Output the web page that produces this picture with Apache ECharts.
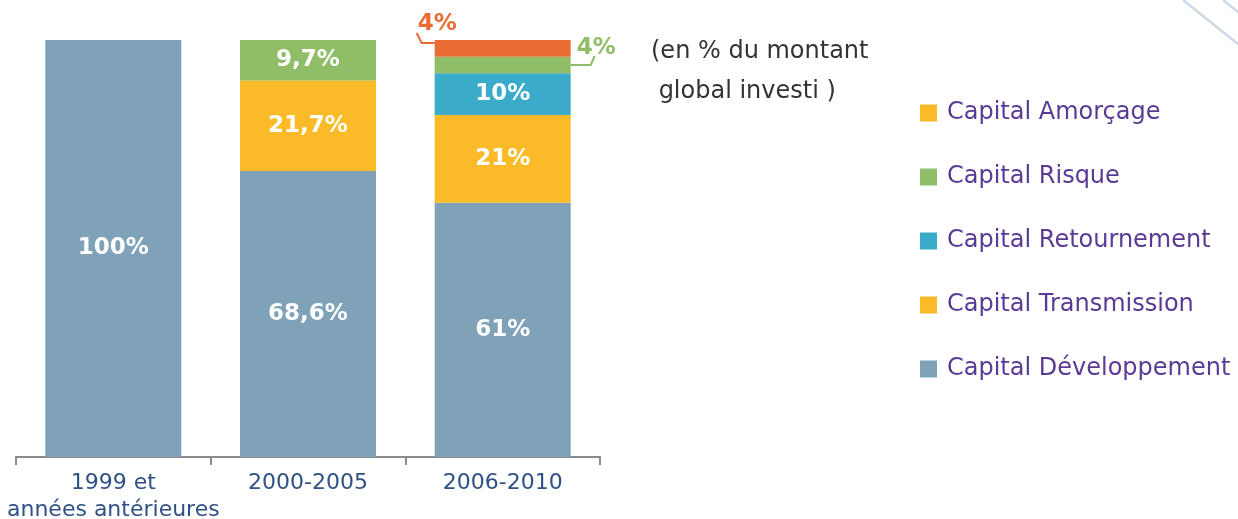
<!DOCTYPE html>
<html><head><meta charset="utf-8">
<script src="https://cdn.jsdelivr.net/npm/echarts@6/dist/echarts.min.js"></script>
<style>html,body{margin:0;padding:0;background:#fff}#c{width:1238px;height:519px}</style>
</head><body><div id="c"></div>
<script>
const categories = ['1999 et\nannées antérieures', '2000-2005', '2006-2010'];
const developpement = [100, 68.6, 61];
const transmission = [0, 21.7, 21];
const retournement = [0, 0, 10];
const risque = [0, 9.7, 4];
const amorcage = [0, 0, 4];
const note = '(en % du montant\n global investi )';

const FONT = '"DejaVu Sans", sans-serif';
const colors = {
  dev: '#7fa2b8', trans: '#fbbb28', ret: '#3aabc9', risk: '#8fbd68', amo: '#e86c33'
};
const fmt = v => String(v).replace('.', ',') + '%';
const inLabel = {show: true, position: 'inside', color: '#fff', fontWeight: 'bold', fontSize: 23, fontFamily: FONT,
  formatter: p => p.value ? fmt(p.value) : ''};

function mk(name, arr, color, outside) {
  return {
    name, type: 'bar', stack: 'a', barWidth: 136,
    itemStyle: {color},
    label: inLabel,
    data: arr.map((v, i) => {
      const d = {value: v};
      if (outside && i === 2 && v) {
        d.label = Object.assign({}, inLabel, {position: outside, color: color, fontSize: 23});
      }
      return d;
    })
  };
}

const chart = echarts.init(document.getElementById('c'));
const cat = categories[2];
function baseGraphic() {
  return [
    {type: 'text', left: 651, top: 32, style: {text: note, fill: '#333', font: '24px ' + FONT, lineHeight: 40}},
    {type: 'line', shape: {x1: 1183, y1: 0, x2: 1238, y2: 44}, style: {stroke: '#ccd9e5', lineWidth: 2.5}},
    {type: 'line', shape: {x1: 1223, y1: 0, x2: 1238, y2: 12}, style: {stroke: '#ccd9e5', lineWidth: 2.5}}
  ];
}
chart.setOption({
  animation: false,
  grid: {left: 16, right: 638, top: 40, bottom: 62, outerBoundsMode: 'none', containLabel: false},
  xAxis: {
    type: 'category', data: categories,
    axisLine: {lineStyle: {color: '#8a8a8a', width: 2}},
    axisTick: {show: true, length: 8, lineStyle: {color: '#8a8a8a', width: 2}},
    axisLabel: {color: '#2e5186', fontSize: 22, fontFamily: FONT, margin: 13, lineHeight: 27, interval: 0}
  },
  yAxis: {type: 'value', min: 0, max: 100, show: false},
  legend: {
    orient: 'vertical', left: 915, top: 96,
    itemWidth: 17, itemHeight: 17, itemGap: 40, icon: 'rect',
    textStyle: {color: '#5b3a96', fontSize: 24, fontFamily: FONT, lineHeight: 24, padding: [0, 0, 0, 5]},
    data: [
      {name: 'Capital Amorçage', itemStyle: {color: colors.trans}},
      {name: 'Capital Risque'},
      {name: 'Capital Retournement'},
      {name: 'Capital Transmission'},
      {name: 'Capital Développement'}
    ]
  },
  graphic: baseGraphic(),
  series: [
    mk('Capital Développement', developpement, colors.dev),
    mk('Capital Transmission', transmission, colors.trans),
    mk('Capital Retournement', retournement, colors.ret),
    mk('Capital Risque', risque, colors.risk, [142, -20]),
    mk('Capital Amorçage', amorcage, colors.amo, [-17, -27])
  ]
});

// leader lines for the small outside labels
const half = 68;
let cum = 0;
const tops = [];
[developpement, transmission, retournement, risque, amorcage].forEach(a => { cum += a[2]; tops.push(cum); });
const pRiskTop = chart.convertToPixel({gridIndex: 0}, [cat, tops[3]]);
const pRiskBot = chart.convertToPixel({gridIndex: 0}, [cat, tops[2]]);
const pAmoTop = chart.convertToPixel({gridIndex: 0}, [cat, tops[4]]);
const rx = pRiskTop[0] + half, lx = pAmoTop[0] - half;
const gy = (pRiskTop[1] + pRiskBot[1]) / 2;
chart.setOption({graphic: baseGraphic().concat([
  {type: 'polyline', shape: {points: [[rx, gy], [rx + 20, gy], [rx + 24, gy - 9]]}, style: {stroke: colors.risk, lineWidth: 2, fill: null}},
  {type: 'polyline', shape: {points: [[lx, pAmoTop[1] + 3], [lx - 13, pAmoTop[1] + 3], [lx - 18, pAmoTop[1] - 7]]}, style: {stroke: colors.amo, lineWidth: 2, fill: null}}
])});
</script>
</body></html>
